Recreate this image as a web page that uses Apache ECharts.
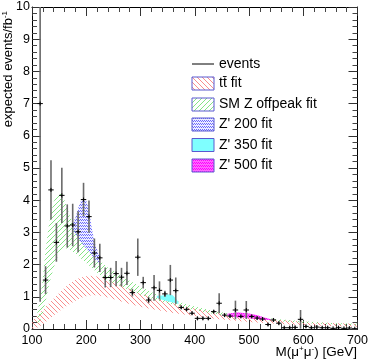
<!DOCTYPE html>
<html><head><meta charset="utf-8">
<script src="https://cdn.jsdelivr.net/npm/echarts@6/dist/echarts.min.js"></script>
<style>html,body{margin:0;padding:0;background:#fff}#c{width:374px;height:363px}</style>
</head><body><div id="c"></div>
<script>
// ---- data ----
const binCenters = [115,125,135,145,155,165,175,185,195,205,215,225,235,245,255,265,275,285,295,305,315,325,335,345,355,365,375,385,395,405,415,425,435,445,455,465,475,485,495,505,515,525,535,545,555,565,575,585,595,605,615,625,635,645,655,665,675,685,695];
const eventValues = [7.0,1.52,4.32,2.69,4.15,3.2,3.23,3.02,4.02,3.49,2.36,2.21,1.6,1.6,1.72,1.61,1.73,1.13,2.23,1.44,0.9,1.28,1.2,1.09,1.52,1.19,0.67,0.61,0.49,0.33,0.33,0.33,0.54,0.8,0.43,0.4,0.59,0.39,0.59,0.39,0.34,0.31,0.14,0.28,0.18,0.04,0.04,0.05,0.3,0.08,0.04,0.06,0.04,0.04,0.02,0.04,0.02,0.03,0.01];
const eventErrors = [6.15,0.43,0.92,0.6,0.86,0.67,0.66,0.64,0.52,0.5,0.45,0.44,0.31,0.3,0.39,0.29,0.36,0.12,0.58,0.18,0.1,0.4,0.28,0.1,0.47,0.41,0.05,0.05,0.05,0.05,0.05,0.05,0.05,0.31,0.05,0.05,0.29,0.05,0.28,0.05,0.05,0.05,0.05,0.05,0.05,0.04,0.04,0.05,0.29,0.05,0.04,0.05,0.04,0.04,0.02,0.04,0.02,0.03,0.01];
const binWidth = 10;

const ttMass  = [100,110,120,130,140,150,160,170,180,190,200,210,220,230,240,250,260,280,300,320,340,360,380,400,430,460,500,550,600,650,700];
const ttUpper = [0.25,0.42,0.6,0.78,0.95,1.12,1.28,1.42,1.53,1.6,1.64,1.65,1.63,1.58,1.52,1.45,1.38,1.24,1.1,0.99,0.9,0.8,0.72,0.64,0.54,0.46,0.37,0.29,0.23,0.19,0.16];
const ttLower = [0,0.05,0.15,0.28,0.42,0.55,0.67,0.78,0.88,0.96,1.02,1.05,1.05,1.02,0.98,0.93,0.88,0.78,0.69,0.62,0.56,0.5,0.45,0.4,0.33,0.28,0.22,0.16,0.12,0.09,0.07];

const zMass  = [110,115,120,125,130,135,140,145,150,155,160,165,170,180,190,200,210,220,230,240,250,260,280,300,320,340,360,380,400,430,460,500,550,600,650,700];
const zUpper = [0.55,0.9,1.6,2.45,3.1,3.6,3.95,4.15,4.23,4.15,4.0,3.75,3.5,3.15,2.92,2.72,2.5,2.3,2.05,1.9,1.8,1.7,1.5,1.32,1.15,1.0,0.9,0.8,0.7,0.58,0.49,0.4,0.31,0.24,0.19,0.16];
const zLower = [0.1,0.25,0.5,0.85,1.25,1.6,1.9,2.15,2.35,2.45,2.5,2.5,2.45,2.35,2.2,2.05,1.9,1.75,1.62,1.5,1.42,1.35,1.2,1.06,0.95,0.84,0.75,0.66,0.58,0.48,0.4,0.33,0.25,0.19,0.15,0.12];

const z200Mass  = [175,180,185,190,195,200,205,210,215,220,225];
const z200Upper = [3.3,3.45,3.75,3.97,4.05,3.98,3.7,3.15,2.7,2.45,2.22];
const z200Lower = [3.1,2.95,2.8,2.7,2.6,2.5,2.4,2.3,2.2,2.1,2.0];

const z350Mass  = [330,340,350,355,360,365,370];
const z350Upper = [1.03,1.04,1.07,1.08,1.04,0.95,0.84];
const z350Lower = [0.97,0.91,0.86,0.84,0.82,0.8,0.78];

const z500Mass  = [460,470,480,490,500,510,520,530,540];
const z500Upper = [0.47,0.5,0.51,0.5,0.48,0.45,0.4,0.35,0.3];
const z500Lower = [0.42,0.38,0.36,0.35,0.33,0.32,0.3,0.29,0.28];

const legendLabels = ['events','t\u0074\u0304 fit','SM Z offpeak fit',"Z' 200 fit","Z' 350 fit","Z' 500 fit"];

// ---- patterns ----
function hatch(color, dir, p, lw, bg) {
  const c = document.createElement('canvas'); c.width = p; c.height = p;
  const g = c.getContext('2d');
  if (bg) { g.fillStyle = bg; g.fillRect(0,0,p,p); }
  g.strokeStyle = color; g.lineWidth = lw; g.beginPath();
  for (let k = -1; k <= 1; k++) {
    if (dir === 'back') { g.moveTo(-1, -1 + k*p); g.lineTo(p+1, p+1 + k*p); }
    else { g.moveTo(-1, p+1 + k*p); g.lineTo(p+1, -1 + k*p); }
  }
  g.stroke();
  return {image: c, repeat: 'repeat'};
}
function dots(color, bg) {
  const c = document.createElement('canvas'); c.width = 4; c.height = 3;
  const g = c.getContext('2d');
  g.fillStyle = bg; g.fillRect(0,0,4,3);
  g.fillStyle = color;
  g.fillRect(0,0,1,1); g.fillRect(2,0,1,1); g.fillRect(1,1,1,1); g.fillRect(3,1,1,1);
  return {image: c, repeat: 'repeat'};
}
const redPat = hatch('#f87070','back',5,0.8,null);
const greenPat = hatch('#66dd66','fwd',5,0.8,null);
const bluePat = dots('#6a6aff','rgba(225,225,255,0.6)');
const magPat = dots('#ff00ff','#ff66ff');
const cyanFill = '#7fffff';

function bandSeries(name, xs, lo, hi, fill, stroke) {
  return {
    type: 'custom', name: name, xAxisIndex: 0, yAxisIndex: 0, clip: true, silent: true,
    data: [0],
    renderItem: function (params, api) {
      const pts = [];
      for (let i = 0; i < xs.length; i++) pts.push(api.coord([xs[i], hi[i]]));
      for (let i = xs.length - 1; i >= 0; i--) pts.push(api.coord([xs[i], lo[i]]));
      return {type: 'polygon', shape: {points: pts}, style: {fill: fill, stroke: stroke || null, lineWidth: stroke ? 0.6 : 0}};
    }
  };
}

const pointData = binCenters.map((x, i) => [x, eventValues[i], eventErrors[i]]);

const font = "'Liberation Sans', Arial, Helvetica, sans-serif";
const chart = echarts.init(document.getElementById('c'), null, {renderer: 'canvas'});

const axCommon = {
  axisLine: {show: true, onZero: false, lineStyle: {color: '#000', width: 1}},
  axisTick: {show: true, inside: true, length: 9, lineStyle: {color: '#333'}},
  minorTick: {show: true, splitNumber: 5, length: 5, lineStyle: {color: '#444'}},
  splitLine: {show: false}
};

const legX = 192, legTextX = 219;
const legRows = [64, 83.5, 104.5, 124.5, 145, 165.5];
const legFills = [null, redPat, greenPat, bluePat, cyanFill, magPat];
const graphics = [];
legRows.forEach((y, i) => {
  if (i === 0) {
    graphics.push({type: 'line', shape: {x1: legX, y1: y, x2: legX + 22, y2: y}, style: {stroke: '#000', lineWidth: 1}});
  } else {
    graphics.push({type: 'rect', shape: {x: legX, y: y - 6.5, width: 22, height: 13}, style: {fill: '#fff', stroke: null}});
    graphics.push({type: 'rect', shape: {x: legX, y: y - 6.5, width: 22, height: 13}, style: {fill: legFills[i], stroke: '#5a5ad0', lineWidth: 1}});
  }
  graphics.push({type: 'text', x: legTextX, y: y, style: {text: legendLabels[i], font: '14px ' + font, fill: '#000', textAlign: 'left', textVerticalAlign: 'middle'}});
});
graphics.push({type: 'text', x: 8, y: 11, rotation: Math.PI / 2,
  style: {text: 'expected events/fb{s|-1}', font: '13px ' + font, fill: '#000', align: 'right', verticalAlign: 'middle',
    rich: {s: {fontSize: 8, fontFamily: font, verticalAlign: 'top', lineHeight: 15, padding: [0,0,6,0]}}}});
graphics.push({type: 'text', x: 357, y: 352,
  style: {text: 'M(μ{s|+}μ{s|-}) [GeV]', font: '13.5px ' + font, fill: '#000', align: 'right', verticalAlign: 'middle',
    rich: {s: {fontSize: 8, fontFamily: font, padding: [0,0,7,0]}}}});

chart.setOption({
  animation: false,
  backgroundColor: '#fff',
  grid: {left: 32, right: 16.5, top: 7, bottom: 34},
  xAxis: [
    Object.assign({type: 'value', min: 100, max: 700, interval: 100, position: 'bottom',
      axisLabel: {show: true, margin: 5, fontSize: 12.5, fontFamily: font, color: '#000'}}, axCommon),
    Object.assign({type: 'value', min: 100, max: 700, interval: 100, position: 'top',
      axisLabel: {show: false}}, axCommon)
  ],
  yAxis: [
    Object.assign({type: 'value', min: 0, max: 10, interval: 1, position: 'left',
      axisLabel: {show: true, margin: 2, fontSize: 12.5, fontFamily: font, color: '#000'}}, axCommon),
    Object.assign({type: 'value', min: 0, max: 10, interval: 1, position: 'right',
      axisLabel: {show: false}}, axCommon)
  ],
  graphic: graphics,
  series: [
    bandSeries('ttbar', ttMass, ttLower, ttUpper, redPat),
    bandSeries('SM Z', zMass, zLower, zUpper, greenPat),
    bandSeries("Z' 200", z200Mass, z200Lower, z200Upper, bluePat),
    bandSeries("Z' 350", z350Mass, z350Lower, z350Upper, cyanFill),
    bandSeries("Z' 500", z500Mass, z500Lower, z500Upper, magPat),
    {
      type: 'custom', name: 'events', clip: true, silent: true,
      data: pointData,
      renderItem: function (params, api) {
        const x = api.value(0), y = api.value(1), e = api.value(2);
        const pl = api.coord([x, y - e]), ph = api.coord([x, y + e]);
        const l = api.coord([x - binWidth / 2, y]), r = api.coord([x + binWidth / 2, y]);
        return {type: 'group', children: [
          {type: 'line', shape: {x1: pl[0], y1: pl[1], x2: ph[0], y2: ph[1]}, style: {stroke: '#6a6a6a', lineWidth: 1.6}},
          {type: 'line', shape: {x1: l[0], y1: l[1], x2: r[0], y2: r[1]}, style: {stroke: '#000', lineWidth: 1}},
          {type: 'line', shape: {x1: l[0] + (r[0]-l[0])/2, y1: l[1] - 2, x2: l[0] + (r[0]-l[0])/2, y2: l[1] + 2}, style: {stroke: '#000', lineWidth: 1}}
        ]};
      }
    }
  ]
});
</script></body></html>
